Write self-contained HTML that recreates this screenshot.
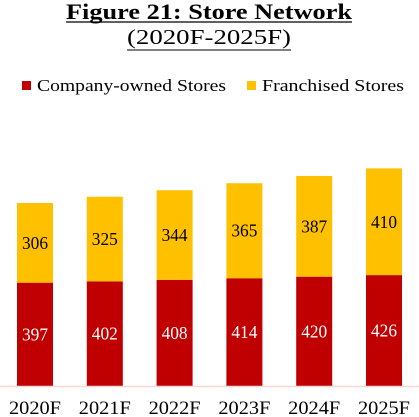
<!DOCTYPE html>
<html><head><meta charset="utf-8"><style>
html,body{margin:0;padding:0;background:#fff;}
svg{display:block;font-family:"Liberation Serif",serif;}
</style></head><body>
<svg id="chart" width="419" height="417" viewBox="0 0 419 417">
<text x="209" y="19" text-anchor="middle" font-size="22" font-weight="bold" textLength="286" lengthAdjust="spacingAndGlyphs">Figure 21: Store Network</text>
<line x1="66" y1="22" x2="352" y2="22" stroke="#000" stroke-width="1.3"/>
<text x="209" y="44" text-anchor="middle" font-size="21" textLength="164" lengthAdjust="spacingAndGlyphs">(2020F-2025F)</text>
<line x1="127" y1="50" x2="291" y2="50" stroke="#000" stroke-width="1"/>
<g>
<rect x="22" y="81" width="9" height="9" fill="#c00000"/>
<text x="37" y="91" font-size="17" textLength="189" lengthAdjust="spacingAndGlyphs">Company-owned Stores</text>
<rect x="247" y="81" width="9" height="9" fill="#ffc000"/>
<text x="262" y="91" font-size="17" textLength="142" lengthAdjust="spacingAndGlyphs">Franchised Stores</text>
</g>
<g id="bars"></g>
<line x1="0" y1="386.5" x2="419" y2="386.5" stroke="#f8d7d7" stroke-width="1.5"/>
</svg>
<script>
const categories = ["2020F","2021F","2022F","2023F","2024F","2025F"];
const companyOwned = [397,402,408,414,420,426];
const franchised = [306,325,344,365,387,410];

const NS = "http://www.w3.org/2000/svg";
const baseY = 386, scale = 0.2603;
const firstCenter = 35, step = 69.8, barW = 36;
function xCenter(i){ return firstCenter + i*step; }
function yScale(v){ return baseY - v*scale; }
const g = document.getElementById("bars");
function mk(tag, attrs){ const e=document.createElementNS(NS,tag); for(const k in attrs) e.setAttribute(k, attrs[k]); return e; }

categories.forEach((c,i)=>{
  const cx = xCenter(i);
  const yR = yScale(companyOwned[i]);
  const yT = yScale(companyOwned[i]+franchised[i]);
  const r1 = mk("rect",{x:cx-barW/2,y:yR,width:barW,height:baseY-yR,fill:"#c00000"});
  
  
  g.appendChild(r1);
  const r2 = mk("rect",{x:cx-barW/2,y:yT,width:barW,height:yR-yT,fill:"#ffc000"});
  
  
  g.appendChild(r2);
  const t1 = mk("text",{x:cx,y:(yR+baseY)/2+6,"text-anchor":"middle","font-size":"18",fill:"#fff",textLength:"26",lengthAdjust:"spacingAndGlyphs"});
  t1.textContent = companyOwned[i];
  
  
  g.appendChild(t1);
  const t2 = mk("text",{x:cx,y:(yT+yR)/2+6,"text-anchor":"middle","font-size":"18",fill:"#000",textLength:"26",lengthAdjust:"spacingAndGlyphs"});
  t2.textContent = franchised[i];
  
  
  g.appendChild(t2);
  const xl = mk("text",{x:cx,y:414,"text-anchor":"middle","font-size":"19",fill:"#000",textLength:"52",lengthAdjust:"spacingAndGlyphs"});
  xl.textContent = c;
  
  
  g.appendChild(xl);
});
</script>
</body></html>
